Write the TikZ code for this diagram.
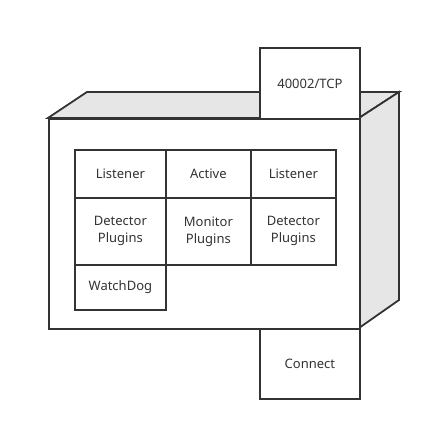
\documentclass[tikz,border=0pt]{standalone}
\usepackage{fontspec}
\setmainfont{Noto Sans}
\usepackage{tikz}
\usetikzlibrary{positioning,calc}

\begin{document}
\begin{tikzpicture}[x=1pt,y=-1pt,line width=1.8pt,
                    every node/.style={font=\fontsize{13}{17}\selectfont,text=black!80}]
    \definecolor{facegray}{HTML}{E6E6E6}
    \tikzstyle{cell}=[draw=black!80,inner sep=0pt,align=center,anchor=north west]
    \tikzstyle{port}=[draw=black!80,fill=white,inner sep=0pt,anchor=north west,
                      minimum width=100pt,minimum height=71pt]
    \useasboundingbox (0,0) rectangle (431,430);

    % box: top and right faces
    \filldraw[draw=black!80,fill=facegray] (48,118) -- (87,92) -- (399,92)
    -- (359,118) -- cycle;
    \filldraw[draw=black!80,fill=facegray] (359,118) -- (399,92) -- (399,300)
    -- (359,328) -- cycle;
    % front face
    \node[draw=black!80,fill=white,inner sep=0pt,anchor=north west,
    minimum width=311pt,minimum height=210pt] (front) at (48,118) {};

    % ports
    \node[port] (tcp) at (259,47) {40002/TCP};
    \node[port,minimum height=70pt] (connect) at (259,328) {Connect};

    % inner modules
    \node[cell,minimum width=91pt,minimum height=48pt] (lsnA) at (74,149) {Listener};
    \node[cell,minimum width=85pt,minimum height=48pt] (active) at (165,149) {Active};
    \node[cell,minimum width=85pt,minimum height=48pt] (lsnB) at (250,149) {Listener};
    \node[cell,minimum width=91pt,minimum height=67pt] (detA) at (74,197)
    {Detector\\Plugins};
    \node[cell,minimum width=85pt,minimum height=67pt] (mon) at (165,197)
    {Monitor\\Plugins};
    \node[cell,minimum width=85pt,minimum height=67pt] (detB) at (250,197)
    {Detector\\Plugins};
    \node[cell,minimum width=91pt,minimum height=45pt] (watch) at (74,264) {WatchDog};

\end{tikzpicture}
\end{document}
